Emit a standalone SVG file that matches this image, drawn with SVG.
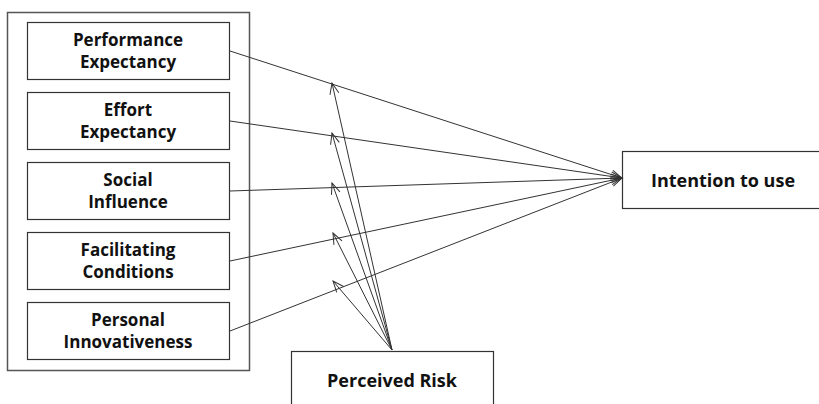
<svg xmlns="http://www.w3.org/2000/svg" width="819" height="404" viewBox="0 0 819 404">
<style>
.box{fill:#fff;stroke:#333;stroke-width:1.2}
.outer{fill:#fff;stroke:#555;stroke-width:1.5}
.t{font-family:"Open Sans","Liberation Sans",sans-serif;font-weight:700;font-size:17px;fill:#111;text-anchor:middle}
.c{fill:none;stroke:#333;stroke-width:1}
</style>
<defs>
<marker id="arr" markerUnits="userSpaceOnUse" markerWidth="14" markerHeight="12" viewBox="-12 -6 14 12" refX="0" refY="0" orient="auto" overflow="visible">
<path d="M-11,-4.5 L0,0 L-11,4.5" fill="none" stroke="#333" stroke-width="1"/>
</marker>
</defs>
<rect width="819" height="404" fill="#fff"/>
<g id="frame"><rect class="outer" x="7.5" y="12.5" width="242" height="358"/></g>
<g id="pe"><rect class="box" x="27.5" y="22.5" width="202" height="57"/><text class="t" x="128" y="46">Performance</text><text class="t" x="128" y="68">Expectancy</text></g>
<g id="ee"><rect class="box" x="27.5" y="92.5" width="202" height="57"/><text class="t" x="128" y="116">Effort</text><text class="t" x="128" y="138">Expectancy</text></g>
<g id="si"><rect class="box" x="27.5" y="162.5" width="202" height="57"/><text class="t" x="128" y="186">Social</text><text class="t" x="128" y="208">Influence</text></g>
<g id="fc"><rect class="box" x="27.5" y="232.5" width="202" height="57"/><text class="t" x="128" y="256">Facilitating</text><text class="t" x="128" y="278">Conditions</text></g>
<g id="pi"><rect class="box" x="27.5" y="302.5" width="202" height="57"/><text class="t" x="128" y="326">Personal</text><text class="t" x="128" y="348">Innovativeness</text></g>
<g id="itu"><rect class="box" x="622.5" y="151.5" width="210" height="57"/><text class="t" x="723" y="187" style="font-size:18px">Intention to use</text></g>
<g id="pr"><rect class="box" x="291.5" y="351.5" width="202" height="70"/><text class="t" x="392" y="387" style="font-size:18px">Perceived Risk</text></g>
<g id="connectors">
<line class="c" x1="230" y1="51" x2="622" y2="178" marker-end="url(#arr)"/>
<line class="c" x1="230" y1="121" x2="622" y2="178" marker-end="url(#arr)"/>
<line class="c" x1="230" y1="191" x2="622" y2="178" marker-end="url(#arr)"/>
<line class="c" x1="230" y1="261" x2="622" y2="178" marker-end="url(#arr)"/>
<line class="c" x1="230" y1="331" x2="622" y2="178" marker-end="url(#arr)"/>
<line class="c" x1="392" y1="350" x2="332" y2="83" marker-end="url(#arr)"/>
<line class="c" x1="392" y1="350" x2="332" y2="133" marker-end="url(#arr)"/>
<line class="c" x1="392" y1="350" x2="332" y2="183" marker-end="url(#arr)"/>
<line class="c" x1="392" y1="350" x2="333" y2="233" marker-end="url(#arr)"/>
<line class="c" x1="392" y1="350" x2="333" y2="281" marker-end="url(#arr)"/>
</g>
</svg>
